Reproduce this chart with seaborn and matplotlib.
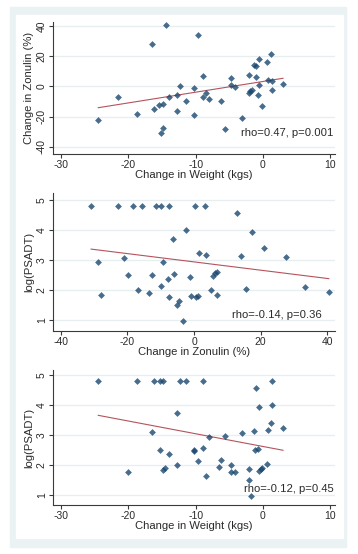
import matplotlib
matplotlib.use("Agg")
import matplotlib.pyplot as plt
from matplotlib.patches import Rectangle
import pandas as pd
import seaborn as sns

# panel 1: change in weight vs change in zonulin
weight_1 = [-24.5, -21.5, -18.75, -16.5, -16.2, -14.4, -15.4, -14.9, -14.8, -15.2,
            -14.0, -12.3, -12.75, -12.8, -11.4, -10.3, -10.3, -9.7, -8.9, -8.9,
            -8.5, -8.0, -6.2, -5.6, -4.8, -4.7, -4.1, -3.1, -2.1, -2.1,
            -1.9, -1.7, -1.3, -1.0, -1.05, -0.8, -0.6, -0.6, -0.2, 0.6,
            0.7, 1.2, 1.3, 1.3, 3.0]
zonulin_1 = [-22.5, -6.9, -18.3, 27.8, -15.2, 40.7, -12.4, -11.5, -27.4, -30.7,
             -7.3, 0.4, -6.0, -16.1, -9.7, -0.9, -19.2, 33.8, 6.6, -7.3,
             -4.2, -8.6, -9.7, -28.5, 5.5, 0.9, -0.7, -21.2, 7.7, -4.6,
             -3.1, -2.2, 14.1, 13.7, 6.0, -5.7, 18.1, 1.1, -13.3, 16.1,
             4.4, 21.4, 3.8, -2.2, 1.5]

# panel 2: change in zonulin vs log(PSADT)
zonulin_2 = [-31.0, -29.0, -28.0, -23.0, -21.2, -19.7, -18.4, -16.7, -15.6, -13.4,
             -12.5, -11.5, -10.0, -9.8, -9.2, -7.8, -7.4, -7.4, -6.3, -6.1,
             -5.1, -4.6, -3.2, -2.5, -1.2, -0.9, 0.35, 0.55, 1.25, 1.55,
             3.2, 3.7, 5.1, 5.7, 6.3, 6.8, 7.0, 13.0, 14.0, 15.6,
             17.4, 21.1, 27.6, 33.3, 40.6]
psadt_2 = [4.81, 2.95, 1.83, 4.81, 3.07, 2.51, 4.81, 2.01, 4.81, 1.91,
           2.51, 4.81, 4.81, 2.14, 2.93, 2.37, 4.81, 1.76, 3.71, 2.55,
           1.49, 1.63, 0.96, 3.99, 2.45, 1.79, 4.81, 1.76, 1.81, 3.25,
           4.81, 3.17, 2.01, 2.48, 2.56, 2.60, 1.85, 4.57, 3.15, 2.05,
           3.94, 3.39, 3.09, 2.12, 1.93]

# panel 3: change in weight vs log(PSADT)
weight_3 = [-24.5, -20.1, -18.75, -16.5, -16.2, -15.3, -14.9, -15.3, -14.9, -14.6,
            -14.0, -12.75, -12.75, -12.3, -11.4, -10.3, -10.3, -9.7, -8.9, -8.9,
            -8.5, -8.0, -6.2, -5.6, -6.5, -4.8, -4.8, -4.1, -3.1, -2.1,
            -2.1, -1.8, -1.3, -1.15, -0.8, -1.0, -0.6, -0.6, -0.35, -0.2,
            0.6, 0.7, 1.2, 1.3, 1.3, 3.0]
psadt_3 = [4.81, 1.76, 4.81, 3.10, 4.81, 4.81, 4.81, 2.50, 1.83, 1.89,
           2.37, 3.72, 2.00, 4.81, 4.81, 2.50, 2.46, 2.12, 4.81, 2.57,
           1.63, 2.92, 2.16, 2.96, 1.94, 2.00, 1.76, 1.77, 3.08, 1.86,
           1.51, 0.96, 3.14, 2.50, 2.54, 4.57, 3.94, 1.80, 1.86, 1.89,
           2.03, 3.18, 3.40, 4.81, 4.00, 3.24]

stats = ["rho=0.47, p=0.001", "rho=-0.14, p=0.36", "rho=-0.12, p=0.45"]

sns.set_style("white")
plt.rcParams["font.family"] = ["Liberation Sans", "DejaVu Sans"]
plt.rcParams["axes.unicode_minus"] = False

W, H = 358, 554
fig = plt.figure(figsize=(W / 100, H / 100), dpi=100)
fig.patches.append(Rectangle((10 / W, 1 - 547 / H), 336 / W, 540 / H,
                             transform=fig.transFigure, color="#EAF2F3", zorder=-2))
fig.patches.append(Rectangle((16 / W, 1 - 538 / H), 327 / W, 523 / H,
                             transform=fig.transFigure, color="white", zorder=-1))

axis_col = "#3a3a3a"
dot_col = "#1A476F"
fit_col = "#B5535C"

panels = [
    dict(x=weight_1, y=zonulin_1, top=22, bottom=154, xlim=(-31.2, 10.7), ylim=(-44.8, 42.6),
         xt=[-30, -20, -10, 0, 10], yt=[-40, -20, 0, 20, 40],
         xl="Change in Weight (kgs)", yl="Change in Zonulin (%)", txy=(0.995, 0.157)),
    dict(x=zonulin_2, y=psadt_2, top=193, bottom=331, xlim=(-42.4, 42.4), ylim=(0.64, 5.23),
         xt=[-40, -20, 0, 20, 40], yt=[1, 2, 3, 4, 5],
         xl="Change in Zonulin (%)", yl="log(PSADT)", txy=(0.954, 0.116)),
    dict(x=weight_3, y=psadt_3, top=370, bottom=505, xlim=(-31.2, 10.7), ylim=(0.667, 5.167),
         xt=[-30, -20, -10, 0, 10], yt=[1, 2, 3, 4, 5],
         xl="Change in Weight (kgs)", yl="log(PSADT)", txy=(0.997, 0.119)),
]

for p, label in zip(panels, stats):
    ax = fig.add_axes([53 / W, 1 - p["bottom"] / H, 282 / W, (p["bottom"] - p["top"]) / H])
    ax.set_facecolor("white")
    df = pd.DataFrame({"x": p["x"], "y": p["y"]})
    sns.regplot(data=df, x="x", y="y", ax=ax, ci=None, truncate=True,
                marker="D", scatter_kws=dict(s=12, color=dot_col, linewidths=0, zorder=3),
                line_kws=dict(color=fit_col, lw=0.8, zorder=2))
    ax.set_xlim(p["xlim"])
    ax.set_ylim(p["ylim"])
    ax.set_xticks(p["xt"])
    ax.set_yticks(p["yt"])
    ax.set_xticklabels([str(v) for v in p["xt"]])
    ax.set_yticklabels([str(v) for v in p["yt"]], rotation=90, va="center")
    ax.yaxis.grid(True, color="#E6EEF0", lw=0.9)
    ax.xaxis.grid(False)
    ax.set_axisbelow(True)
    for s in ["top", "right"]:
        ax.spines[s].set_visible(False)
    for s in ["left", "bottom"]:
        ax.spines[s].set_color(axis_col)
        ax.spines[s].set_linewidth(0.8)
    ax.tick_params(axis="both", direction="out", length=3, width=0.8, color=axis_col,
                   labelsize=7.5, labelcolor="#2a2a2a", pad=1.5)
    ax.tick_params(axis="x", bottom=True)
    ax.tick_params(axis="y", left=True)
    ax.set_xlabel(p["xl"], fontsize=8.1, color="#2a2a2a", labelpad=0)
    ax.set_ylabel(p["yl"], fontsize=8.1, color="#2a2a2a", labelpad=2)
    ax.text(p["txy"][0], p["txy"][1], label, transform=ax.transAxes,
            ha="right", va="center", fontsize=8.1, color="#2a2a2a")

fig.savefig("out.png", dpi=100)
